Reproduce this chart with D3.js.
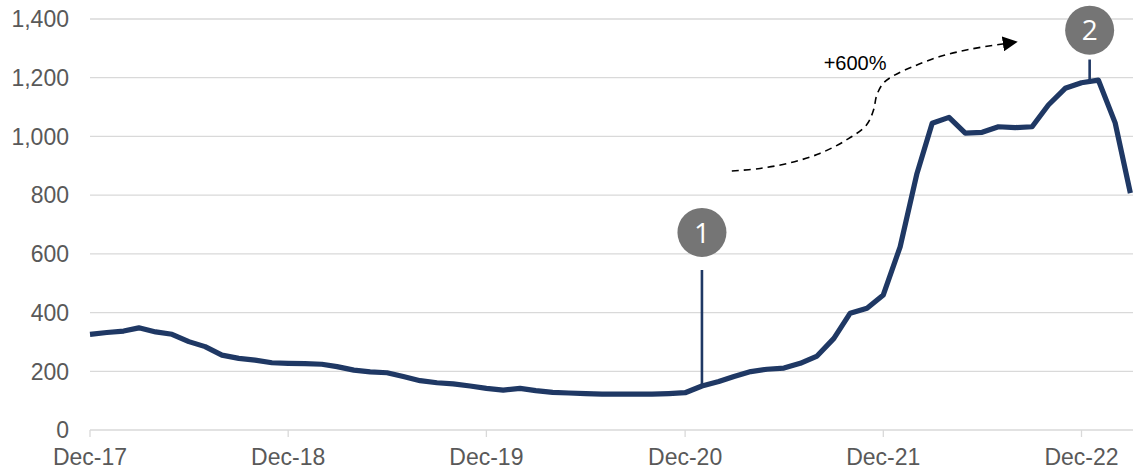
<!DOCTYPE html>
<html>
<head>
<meta charset="utf-8">
<script src="https://cdn.jsdelivr.net/npm/d3@7"></script>
<style>
  html, body { margin: 0; padding: 0; background: #fff; }
  #chart { width: 1133px; height: 472px; }
  text { font-family: "Liberation Sans", Arial, sans-serif; }
</style>
</head>
<body>
<div id="chart"></div>
<script>
// monthly values, Dec-17 .. Mar-23
const months = [
  "2017-12", "2018-01", "2018-02", "2018-03", "2018-04", "2018-05", "2018-06", "2018-07", "2018-08", "2018-09", "2018-10", "2018-11",
  "2018-12", "2019-01", "2019-02", "2019-03", "2019-04", "2019-05", "2019-06", "2019-07", "2019-08", "2019-09", "2019-10", "2019-11",
  "2019-12", "2020-01", "2020-02", "2020-03", "2020-04", "2020-05", "2020-06", "2020-07", "2020-08", "2020-09", "2020-10", "2020-11",
  "2020-12", "2021-01", "2021-02", "2021-03", "2021-04", "2021-05", "2021-06", "2021-07", "2021-08", "2021-09", "2021-10", "2021-11",
  "2021-12", "2022-01", "2022-02", "2022-03", "2022-04", "2022-05", "2022-06", "2022-07", "2022-08", "2022-09", "2022-10", "2022-11",
  "2022-12", "2023-01", "2023-02", "2023-03"
];
const values = [
  326, 332, 337, 348, 334, 326, 301, 284, 255, 244, 238, 229,
  227, 226, 224, 216, 204, 198, 195, 182, 168, 161, 157, 150,
  142, 136, 142, 134, 128, 126, 124, 122, 122, 122, 122, 124,
  127, 150, 165, 182, 199, 207, 211, 227, 252, 312, 398, 415,
  460, 624, 874, 1045, 1065, 1011, 1014, 1033, 1030, 1033, 1107, 1164,
  1183, 1192, 1046, 807
];
const yTicks = [0, 200, 400, 600, 800, 1000, 1200, 1400];
const xTicks = ["2017-12", "2018-12", "2019-12", "2020-12", "2021-12", "2022-12"];

// numbered markers: circle centre value, top of the leader line, bottom of the leader line
const markers = [
  { label: "1", date: "2021-01-01", circle: 673, top: 545, bottom: 150 },
  { label: "2", date: "2022-12-16", circle: 1362, top: 1262, bottom: 1192 }
];

// dashed growth arrow
const arrowPath = [
  ["2021-02-25", 882], ["2021-04-18", 891], ["2021-06-12", 910], ["2021-08-06", 942],
  ["2021-09-24", 988], ["2021-10-31", 1039], ["2021-11-13", 1090], ["2021-11-19", 1141],
  ["2021-12-01", 1181], ["2021-12-19", 1206], ["2022-01-25", 1238], ["2022-03-15", 1272],
  ["2022-05-10", 1297], ["2022-07-12", 1316]
];
const arrowLabel = { text: "+600%", date: "2021-10-10", value: 1226 };

function renderChart(containerSelector) {
  const container = d3.select(containerSelector);
  const width = 1133, height = 472;
  const margin = { top: 19, right: 0, bottom: 42, left: 90 };

  const parse = d3.utcParse("%Y-%m");
  const parseDay = d3.utcParse("%Y-%m-%d");
  const data = months.map((m, i) => ({ date: parse(m), value: values[i] }));

  const svg = container.append("svg")
    .attr("width", width)
    .attr("height", height);

  const x = d3.scaleUtc()
    .domain([parse("2017-12"), parse("2022-12")])
    .range([margin.left, 1081.5]);

  const y = d3.scaleLinear()
    .domain([0, 1400])
    .range([height - margin.bottom, margin.top]);

  // grid
  svg.append("g")
    .selectAll("line")
    .data(yTicks)
    .join("line")
    .attr("x1", margin.left)
    .attr("x2", width - margin.right)
    .attr("y1", d => y(d))
    .attr("y2", d => y(d))
    .attr("stroke", "#d9d9d9")
    .attr("stroke-width", 1.3);

  // y labels
  svg.append("g")
    .selectAll("text")
    .data(yTicks)
    .join("text")
    .attr("x", margin.left - 21)
    .attr("y", d => y(d))
    .attr("dy", "0.36em")
    .attr("text-anchor", "end")
    .attr("fill", "#595959")
    .style("font-size", "23px")
    .text(d3.format(","));

  // x ticks + labels
  const xg = svg.append("g")
    .attr("transform", `translate(0,${y(0)})`);
  xg.selectAll("line")
    .data(xTicks)
    .join("line")
    .attr("x1", d => x(parse(d)))
    .attr("x2", d => x(parse(d)))
    .attr("y1", 0)
    .attr("y2", 7)
    .attr("stroke", "#d9d9d9")
    .attr("stroke-width", 1.3);
  xg.selectAll("text")
    .data(xTicks)
    .join("text")
    .attr("x", d => x(parse(d)))
    .attr("y", 35)
    .attr("text-anchor", "middle")
    .attr("fill", "#595959")
    .style("font-size", "23px")
    .text(d => d3.utcFormat("%b-%y")(parse(d)));

  // series line
  const line = d3.line()
    .x(d => x(d.date))
    .y(d => y(d.value));

  svg.append("path")
    .datum(data)
    .attr("fill", "none")
    .attr("stroke", "#1f3864")
    .attr("stroke-width", 5.2)
    .attr("stroke-linejoin", "round")
    .attr("d", line);

  // markers
  const mk = svg.append("g")
    .selectAll("g")
    .data(markers)
    .join("g");
  mk.append("line")
    .attr("x1", d => x(parseDay(d.date)))
    .attr("x2", d => x(parseDay(d.date)))
    .attr("y1", d => y(d.top))
    .attr("y2", d => y(d.bottom))
    .attr("stroke", "#1f3864")
    .attr("stroke-width", 2.6);
  mk.append("circle")
    .attr("cx", d => x(parseDay(d.date)))
    .attr("cy", d => y(d.circle))
    .attr("r", 24.5)
    .attr("fill", "#757575");
  mk.append("text")
    .attr("x", d => x(parseDay(d.date)))
    .attr("y", d => y(d.circle))
    .attr("dy", "0.36em")
    .attr("text-anchor", "middle")
    .attr("fill", "#fff")
    .style("font-size", "28px")
    .style("font-family", "'Open Sans', sans-serif")
    .text(d => d.label);

  // arrow
  svg.append("defs").append("marker")
    .attr("id", "arrowhead")
    .attr("viewBox", "0 0 10 10")
    .attr("refX", 1)
    .attr("refY", 5)
    .attr("markerUnits", "userSpaceOnUse")
    .attr("markerWidth", 15)
    .attr("markerHeight", 15)
    .attr("orient", "auto")
    .append("path")
    .attr("d", "M0,0 L10,5 L0,10 Z")
    .attr("fill", "#000");

  const arrowLine = d3.line()
    .x(d => x(parseDay(d[0])))
    .y(d => y(d[1]))
    .curve(d3.curveCatmullRom);

  svg.append("path")
    .datum(arrowPath)
    .attr("fill", "none")
    .attr("stroke", "#000")
    .attr("stroke-width", 1.6)
    .attr("stroke-dasharray", "7,5")
    .attr("marker-end", "url(#arrowhead)")
    .attr("d", arrowLine);

  svg.append("text")
    .attr("x", x(parseDay(arrowLabel.date)))
    .attr("y", y(arrowLabel.value))
    .attr("text-anchor", "middle")
    .attr("fill", "#000")
    .style("font-size", "20px")
    .text(arrowLabel.text);
}

renderChart("#chart");
</script>
</body>
</html>
